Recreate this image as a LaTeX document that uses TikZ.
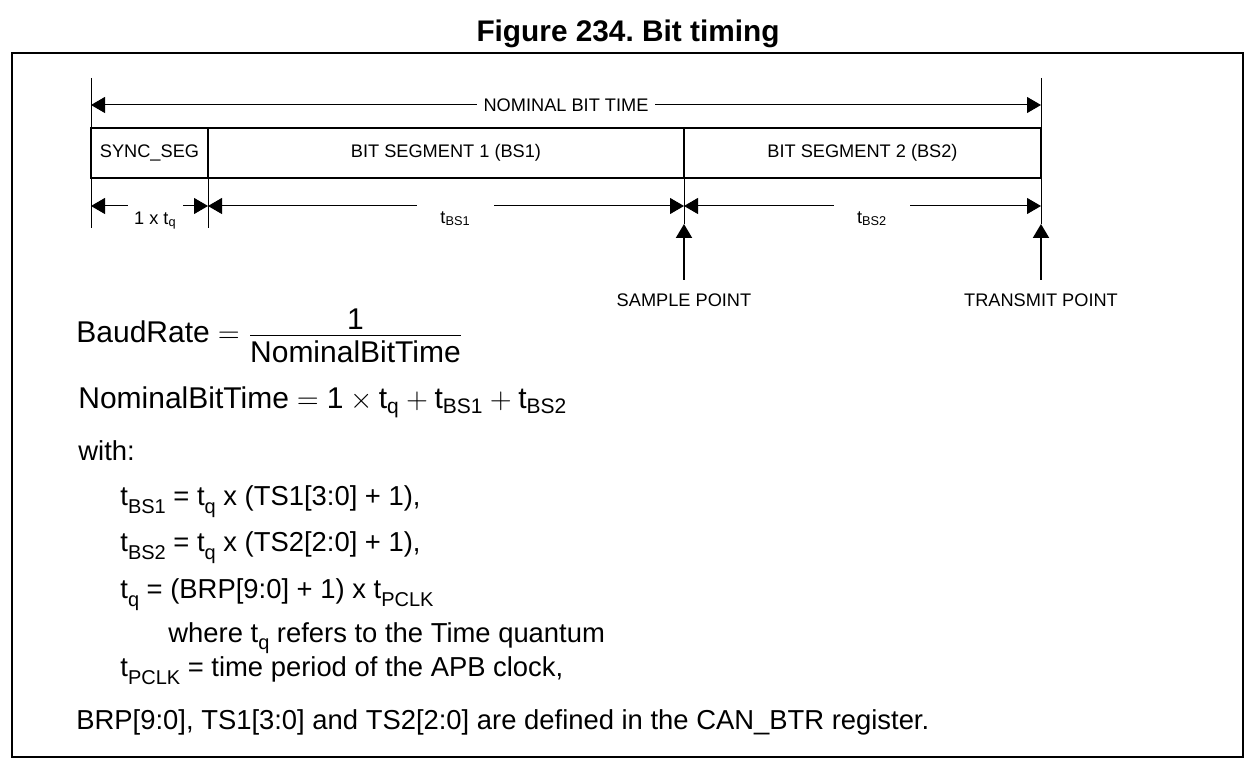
\documentclass[tikz,border=0pt]{standalone}
\usepackage{fontspec}
\usepackage{amsmath}
\setmainfont{Liberation Sans}
\usetikzlibrary{arrows.meta}
\frenchspacing
\newcommand\diafont{\fontsize{9.1}{11}\selectfont}
\newcommand\txtfont{\fontsize{13.7}{16}\selectfont}
\newcommand\eqfont{\fontsize{15}{18}\selectfont}
\newcommand\lowsub[1]{\raisebox{-4pt}{\fontsize{10}{12}\selectfont #1}}
\begin{document}
\begin{tikzpicture}[x=0.5pt,y=-0.5pt,>={Triangle[length=7pt,width=8pt]},
		seg/.style={draw,line width=1pt,minimum height=25pt,inner sep=0pt,outer sep=0pt,anchor=north west,font=\diafont},
		tick/.style={line width=0.5pt},
		dim/.style={<->,line width=0.5pt},
		gap/.style={fill=white,font=\diafont,inner ysep=1pt},
		gaplow/.style={gap,anchor=north,yshift=1pt,inner ysep=3.5pt},
		point/.style={->,line width=1pt},
		ptlabel/.style={font=\diafont,anchor=base,inner sep=0pt},
		txt/.style={anchor=base west,inner sep=0pt,font=\txtfont},
		eq/.style={anchor=base west,inner sep=0pt,font=\eqfont}]
		\useasboundingbox (0,0) rectangle (1255,775);
		\node[font=\fontsize{14.9}{18}\selectfont\bfseries,anchor=base] (title) at (628,42) {Figure 234. Bit timing};
		\draw[line width=0.6pt] (12,53) rectangle (1243,757);
		% bit segments
		\node[seg,minimum width=58.5pt] (sync) at (91,128) {SYNC\_SEG};
		\node[seg,minimum width=238pt] (bs1) at (sync.north east) {BIT SEGMENT 1 (BS1)};
		\node[seg,minimum width=178.5pt] (bs2) at (bs1.north east) {BIT SEGMENT 2 (BS2)};
		\coordinate (t0) at (91,78);
		\coordinate (b0) at (91,228);
		\coordinate (t3) at (1041,78);
		\coordinate (b3) at (1041,224);
		\coordinate (b1) at (208,228);
		\coordinate (b2) at (684,224);
		\coordinate (n0) at (91,105);
		\coordinate (n1) at (1041,105);
		\coordinate (d0) at (91,206);
		\coordinate (d1) at (208,206);
		\coordinate (d2) at (684,206);
		\coordinate (d3) at (1041,206);
		\coordinate (s0) at (684,280);
		\coordinate (s1) at (1041,280);
		\draw[tick] (t0) -- (b0);
		\draw[tick] (t3) -- (b3);
		\draw[tick] (sync.south east) -- (b1);
		\draw[tick] (bs1.south east) -- (b2);
		% time lengths
		\path[dim]
		(n0) edge node [gap,inner xsep=3.5pt] (nbt) {NOMINAL BIT TIME} (n1)
		(d0) edge node [gaplow,pos=.55,inner xsep=3pt] (tq) {1 x t\textsubscript{q}} (d1)
		(d1) edge node [gaplow,pos=.52,inner xsep=11.5pt] (tbs1) {t\textsubscript{BS1}} (d2)
		(d2) edge node [gaplow,pos=.527,inner xsep=11.5pt] (tbs2) {t\textsubscript{BS2}} (d3);
		\draw[point] (s0) -- (b2);
		\draw[point] (s1) -- (b3);
		\node[ptlabel] (sp) at (684,307) {SAMPLE POINT};
		\node[ptlabel] (tp) at (1041,307) {TRANSMIT POINT};
		% formulas
		\node[eq] (baud) at (76,343) {$\text{BaudRate}=\dfrac{\raisebox{-3pt}{\text{1}}}{\text{NominalBitTime}}$};
		\node[eq] (nom) at (78,409) {$\text{NominalBitTime}=\text{1}\times\text{t}_{\text{q}}+\text{t}_{\text{BS1}}+\text{t}_{\text{BS2}}$};
		\node[txt] (with) at (78,461) {with:};
		\node[txt] (l1) at (120,506) {t\lowsub{BS1} = t\lowsub{q} x (TS1[3:0] + 1),};
		\node[txt] (l2) at (120,552) {t\lowsub{BS2} = t\lowsub{q} x (TS2[2:0] + 1),};
		\node[txt] (l3) at (120,599) {t\lowsub{q} = (BRP[9:0] + 1) x t\lowsub{PCLK}};
		\node[txt] (l4) at (168,642) {where t\lowsub{q} refers to the Time quantum};
		\node[txt] (l5) at (120,676) {t\lowsub{PCLK} = time period of the APB clock,};
		\node[txt] (l6) at (76,729) {BRP[9:0], TS1[3:0] and TS2[2:0] are defined in the CAN\_BTR register.};
\end{tikzpicture}
\end{document}
